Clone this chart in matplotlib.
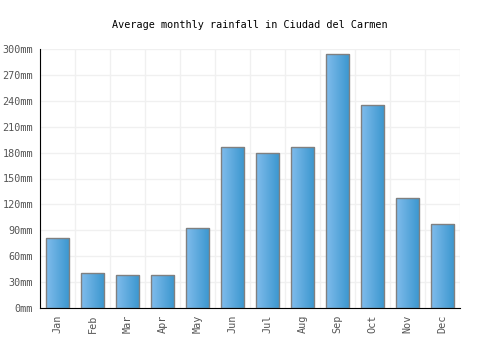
import numpy as np
import matplotlib
matplotlib.use("Agg")
from matplotlib import pyplot as plt
from matplotlib.colors import LinearSegmentedColormap

months = ["Jan", "Feb", "Mar", "Apr", "May", "Jun", "Jul", "Aug", "Sep", "Oct", "Nov", "Dec"]
rainfall = [81, 40, 38, 38, 93, 186, 180, 186, 294, 235, 127, 97]
yticks = list(range(0, 301, 30))
ytick_labels = [f"{v}mm" for v in yticks]

plt.rcParams['font.family'] = ['DejaVu Sans Mono']

fig = plt.figure(figsize=(5, 3.5), dpi=100)
ax = fig.add_axes([0.08, 0.12, 0.84, 0.74])

x = np.arange(len(months))
bars = ax.bar(x, rainfall, width=0.68, color="none", edgecolor="#808080", linewidth=1, zorder=3)

# horizontal gradient fill for each bar
cmap = LinearSegmentedColormap.from_list("blues", ["#80bcec", "#3a96ce"])
grad = np.linspace(0, 1, 64).reshape(1, -1)
for b in bars:
    x0, y0 = b.get_x(), b.get_y()
    w, h = b.get_width(), b.get_height()
    im = ax.imshow(grad, cmap=cmap, aspect="auto", extent=[x0, x0 + w, y0, y0 + h], zorder=2)
    im.set_clip_path(b)

ax.set_xlim(-0.5, len(months) - 0.5)
ax.set_ylim(0, 300)
ax.set_xticks(x)
ax.set_xticklabels(months, rotation=90, color="#555555", fontsize=7.3)
ax.set_yticks(yticks)
ax.set_yticklabels(ytick_labels, color="#555555", fontsize=7.3)
ax.tick_params(length=0, pad=5)

# grid lines on category boundaries and y ticks
ax.set_xticks(np.arange(-0.5, len(months), 1), minor=True)
ax.tick_params(which="minor", length=0)
ax.grid(True, which="minor", axis="x", color="#f0f0f0", linewidth=1, zorder=0)
ax.grid(True, which="major", axis="y", color="#f0f0f0", linewidth=1, zorder=0)

for side in ["top", "right"]:
    ax.spines[side].set_visible(False)
ax.spines["left"].set_color("black")
ax.spines["bottom"].set_color("black")

fig.text(0.5, 0.93, "Average monthly rainfall in Ciudad del Carmen", ha="center", va="center", fontsize=7.3)

fig.savefig("out.png")
